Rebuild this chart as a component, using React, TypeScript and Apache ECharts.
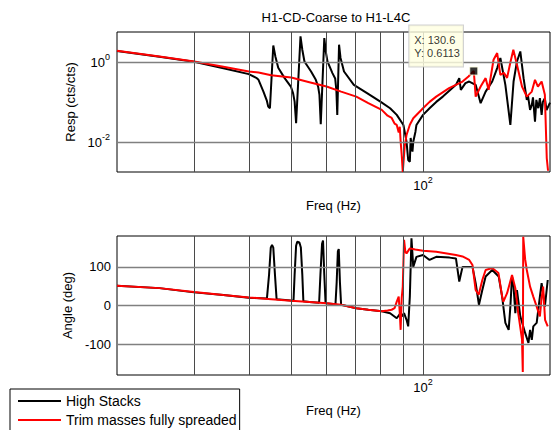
import React, { useEffect, useRef } from 'react';
import * as echarts from 'echarts';

const chartTitle = 'H1-CD-Coarse to H1-L4C';
const seriesNames = ['High Stacks', 'Trim masses fully spreaded'];
const seriesColors = ['#000000', '#ff0000'];
const freqRange = [20, 195];
const magRange = [0.00186, 5.75];
const phaseRange = [-180, 180];
const freqGridLines = [30, 40, 50, 60, 70, 80, 90, 100];
const magGridLines = [0.01, 1];
const phaseGridLines = [-100, 0, 100];
const freqLabelExponents = [2];
const magLabelExponents = [-2, 0];
const phaseLabels = [-100, 0, 100];
const dataTip = [130.6, 0.6113];

// High Stacks magnitude
const hsMagF = [20, 25, 30, 35, 40, 41.6, 42.1, 43.2, 44.0, 44.3, 44.7, 45.5, 46.0, 46.7, 48.3, 49.9, 50.5, 50.9, 51.3, 52.5, 53.0, 53.6, 55.5, 56.9, 57.6, 58.0, 58.4, 59.5, 60.0, 60.5, 62.1, 63.0, 63.4, 63.7, 64.3, 64.8, 66.0, 69.5, 74.5, 79.9, 84.1, 87.1, 90.2, 91.7, 92.5, 93.3, 93.7, 94.6, 95.0, 96.1, 96.6, 100, 103.5, 107.2, 111.0, 115, 118.9, 121.0, 122.0, 125, 127.5, 131.9, 135.4, 139.0, 143.9, 147.7, 150.2, 154.2, 158.3, 161.0, 163.9, 166.8, 169.7, 172.6, 173.7, 175.6, 177.2, 178.3, 180.2, 181.5, 183.3, 184.9, 186.6, 187.8, 189.8, 191.5, 195];
const hsMag = [1.93, 1.38, 1.04, 0.716, 0.513, 0.414, 0.369, 0.188, 0.11, 0.0794, 0.0724, 2.66, 1.41, 0.737, 0.407, 0.251, 0.17, 0.106, 0.0305, 4.47, 2.08, 1.06, 0.596, 0.369, 0.25, 0.156, 0.0288, 4.07, 1.8, 1.06, 0.543, 0.4, 0.2, 0.0493, 2.77, 1.3, 0.596, 0.277, 0.172, 0.106, 0.0724, 0.0493, 0.0277, 0.0106, 0.0037, 0.00335, 0.0131, 0.006, 0.0106, 0.0188, 0.0277, 0.0493, 0.0724, 0.104, 0.141, 0.2, 0.277, 0.407, 0.208, 0.305, 0.335, 0.277, 0.0966, 0.188, 0.335, 0.724, 1.29, 0.277, 0.0277, 0.335, 1.06, 1.88, 0.407, 0.117, 0.147, 0.0657, 0.0876, 0.135, 0.0335, 0.117, 0.0724, 0.129, 0.0493, 0.104, 0.129, 0.065, 0.1];

// Trim masses magnitude
const tmMagF = [20, 25, 30, 35, 40, 42.1, 45, 50, 55, 60.2, 65, 70.4, 75, 80.5, 83, 84.8, 86.1, 87.1, 88.0, 88.5, 88.9, 89.4, 89.9, 90.2, 90.8, 91.7, 93.3, 95.0, 100, 103.5, 107.2, 110, 114.7, 118.9, 123.1, 127, 130.6, 131.9, 135.4, 139.0, 141.2, 144.9, 147.7, 150.2, 153, 155.6, 158.3, 160.8, 163.9, 168.3, 172.6, 177.2, 180.2, 183.0, 186.6, 189.8, 191.7, 193];
const tmMag = [1.96, 1.40, 1.06, 0.78, 0.596, 0.562, 0.48, 0.422, 0.323, 0.251, 0.188, 0.141, 0.097, 0.0657, 0.047, 0.0414, 0.03, 0.0277, 0.018, 0.025, 0.0106, 0.005, 0.00188, 0.003, 0.008, 0.0156, 0.028, 0.0407, 0.0724, 0.104, 0.141, 0.17, 0.229, 0.277, 0.335, 0.447, 0.6113, 0.141, 0.251, 0.407, 0.208, 1.17, 1.72, 0.493, 0.55, 0.414, 1.0, 2.08, 0.876, 0.251, 0.141, 0.188, 0.369, 0.251, 0.335, 0.156, 0.00414, 0.002];

// High Stacks phase
const hsPhF = [20, 25, 30, 35, 40, 44.0, 44.5, 44.9, 45.2, 45.5, 45.9, 46.3, 50.6, 50.9, 51.3, 51.6, 52.2, 52.6, 53.0, 53.3, 55, 57.9, 58.3, 58.8, 59.1, 59.5, 59.9, 63.1, 63.5, 63.9, 64.2, 64.6, 65.0, 70.4, 75, 80.5, 84.1, 87.1, 88.5, 89.4, 90.5, 91.7, 92.5, 93.3, 94.1, 95.0, 96.6, 100, 103.5, 107.2, 115, 118.9, 121.0, 123.1, 129.7, 131.9, 134.2, 136.6, 139.0, 143.9, 148.9, 151.6, 154.2, 156.9, 158.3, 159.7, 161.0, 162.5, 163.9, 166.8, 171.1, 174.1, 175.6, 177.2, 178.6, 181.8, 184.9, 186.6, 189.8, 192.7];
const hsPh = [51, 45, 34, 27, 20, 18, 80, 150, 157, 150, 80, 16, 12, 80, 155, 165, 163, 150, 80, 11, 9, 7, 80, 160, 168, 80, 6, 3, 60, 140, 146, 60, 2, -7, -11, -15, -20, -33, -22, -28, -20, -37, -54, 23, 174, 100, 126, 131, 118, 126, 124, 122, 62, 100, 100, 58, 2, 40, 75, 92, 75, 23, -45, -63, -3, 75, 49, -20, 40, -28, -71, -97, -63, -89, -54, -45, 23, 58, -3, 66];

// Trim masses phase
const tmPhF = [20, 25, 30, 35, 40, 44.3, 50, 55, 60.2, 65, 70.4, 75, 80.5, 83, 84.8, 86.1, 87.1, 88.0, 88.5, 88.9, 89.4, 89.9, 90.5, 91.1, 91.7, 93.3, 96, 100, 107.2, 118.9, 123.1, 127.5, 129.7, 131.9, 134.0, 136.6, 139.0, 143.9, 148.7, 151.6, 152.6, 155.6, 159.7, 162.5, 165.0, 168.3, 169.0, 169.4, 171.1, 172.6, 175.6, 178.6, 181.8, 184.9, 186.6, 188.1, 190, 192.7];
const tmPh = [51, 45, 35, 27, 21, 17, 12, 9, 6, 2, -7, -11, -15, -13, -11, -7, 10, 23, -20, -63, 20, 49, 170, 140, 135, 148, 145, 142, 139, 131, 127, 118, 105, 40, 28, 66, 92, 97, 84, 23, 10, 32, 79, 45, -20, -88, -172, 178, 120, 92, 49, 23, -3, -28, 20, 49, -37, -54];

const zip = (a: number[], b: number[]) => a.map((v, i) => [v, b[i]]);
const FONT = "'Liberation Sans', Arial, Helvetica, sans-serif";

const isPow = (v: number, exps: number[]) => {
  const e = Math.log10(v);
  const r = Math.round(e);
  return Math.abs(e - r) < 1e-6 && exps.includes(r) ? r : null;
};

const rich = {
  b: { fontSize: 13, lineHeight: 14, fontFamily: FONT, color: '#000' },
  s: { fontSize: 9, lineHeight: 10, padding: [0, 0, 11, 0], fontFamily: FONT, color: '#000' },
};

export default function App() {
  const ref = useRef<HTMLDivElement>(null);
  useEffect(() => {
    document.body.style.margin = '0';
    const chart = echarts.init(ref.current!, null, { renderer: 'svg' });
    const vLine = { color: '#4a4a4a', width: 1, type: 'solid' };
    const hLine = { color: '#808080', width: 1.3, type: 'solid' };
    const baseX = (gi: number, gap: number, margin: number) => ({
      type: 'log',
      logBase: 10,
      gridIndex: gi,
      min: freqRange[0],
      max: freqRange[1],
      name: 'Freq (Hz)',
      nameLocation: 'middle',
      nameGap: gap,
      nameTextStyle: { fontSize: 13, color: '#000', fontFamily: FONT },
      axisLine: { show: false },
      axisTick: { show: false },
      splitLine: { show: false },
      axisLabel: {
        margin,
        rich,
        formatter: (v: number) => {
          const r = isPow(v, freqLabelExponents);
          return r === null ? '' : `{b|10}{s|${r}}`;
        },
      },
    });
    const gridSeries = (gi: number, hs: number[], hk: string) => ({
      type: 'line',
      xAxisIndex: gi,
      yAxisIndex: gi,
      data: [],
      z: 1,
      silent: true,
      markLine: {
        silent: true,
        symbol: 'none',
        label: { show: false },
        data: [
          ...freqGridLines.map((v) => ({ xAxis: v, lineStyle: vLine })),
          ...hs.map((v) => ({ [hk]: v, lineStyle: hLine })),
        ],
      },
    });
    const option = {
      animation: false,
      backgroundColor: '#fff',
      graphic: [
        {
          type: 'text',
          x: 336,
          y: 17,
          style: { text: chartTitle, font: `13px ${FONT}`, fill: '#000', align: 'center', verticalAlign: 'middle' },
        },
      ],
      grid: [
        { left: 117, top: 32, width: 438, height: 140, show: true, borderColor: '#000', borderWidth: 1, backgroundColor: 'transparent' },
        { left: 117, top: 236, width: 438, height: 139, show: true, borderColor: '#000', borderWidth: 1, backgroundColor: 'transparent' },
      ],
      xAxis: [baseX(0, 27, 6), baseX(1, 29, 5)],
      yAxis: [
        {
          type: 'log',
          logBase: 10,
          gridIndex: 0,
          min: magRange[0],
          max: magRange[1],
          name: 'Resp (cts/cts)',
          nameLocation: 'middle',
          nameGap: 33,
          nameTextStyle: { fontSize: 13, color: '#000', fontFamily: FONT },
          axisLine: { show: false },
          axisTick: { show: false },
          splitLine: { show: false },
          axisLabel: {
            margin: 7,
            rich,
            formatter: (v: number) => {
              const r = isPow(v, magLabelExponents);
              return r === null ? '' : `{b|10}{s|${r}}`;
            },
          },
        },
        {
          type: 'value',
          gridIndex: 1,
          min: phaseRange[0],
          max: phaseRange[1],
          name: 'Angle (deg)',
          nameLocation: 'middle',
          nameGap: 34,
          nameTextStyle: { fontSize: 13, color: '#000', fontFamily: FONT },
          axisLine: { show: false },
          axisTick: { show: false },
          splitLine: { show: false },
          axisLabel: {
            margin: 6,
            fontSize: 13,
            fontFamily: FONT,
            color: '#000',
            formatter: (v: number) => (phaseLabels.includes(v) ? String(v) : ''),
          },
        },
      ],
      legend: {
        orient: 'vertical',
        left: 10,
        top: 389,
        height: 80,
        data: seriesNames,
        icon: 'rect',
        itemWidth: 43,
        itemHeight: 2,
        itemGap: 5,
        padding: [5, 3, 5, 8],
        borderColor: '#000',
        borderWidth: 1,
        backgroundColor: '#fff',
        selectedMode: false,
        textStyle: { fontSize: 14, color: '#000', fontFamily: FONT },
      },
      series: [
        gridSeries(0, magGridLines, 'yAxis'),
        gridSeries(1, phaseGridLines, 'yAxis'),
        ...[
          [zip(hsMagF, hsMag), 0, 0],
          [zip(tmMagF, tmMag), 1, 0],
          [zip(hsPhF, hsPh), 0, 1],
          [zip(tmPhF, tmPh), 1, 1],
        ].map(([data, si, gi]: any) => ({
          type: 'line',
          name: seriesNames[si],
          xAxisIndex: gi,
          yAxisIndex: gi,
          data,
          showSymbol: false,
          symbol: 'none',
          z: 2 + si,
          silent: true,
          lineStyle: { color: seriesColors[si], width: 2 },
          itemStyle: { color: seriesColors[si] },
        })),
        {
          type: 'scatter',
          xAxisIndex: 0,
          yAxisIndex: 0,
          data: [dataTip],
          symbol: 'rect',
          symbolSize: 8,
          z: 10,
          silent: true,
          itemStyle: { color: '#000', borderColor: '#ffffe0', borderWidth: 1 },
          label: {
            show: true,
            position: [-60, -41],
            align: 'left',
            verticalAlign: 'top',
            formatter: `X: ${dataTip[0]}\nY: ${dataTip[1]}`,
            backgroundColor: '#ffffe1',
            borderColor: '#c4c4c4',
            borderWidth: 1,
            padding: [8, 3, 7, 5],
            lineHeight: 13,
            fontSize: 11,
            color: '#000',
            fontFamily: FONT,
          },
        },
      ],
    };
    chart.setOption(option as any);
    return () => chart.dispose();
  }, []);
  return <div ref={ref} style={{ position: 'absolute', left: 0, top: 0, width: 553, height: 430 }} />;
}
